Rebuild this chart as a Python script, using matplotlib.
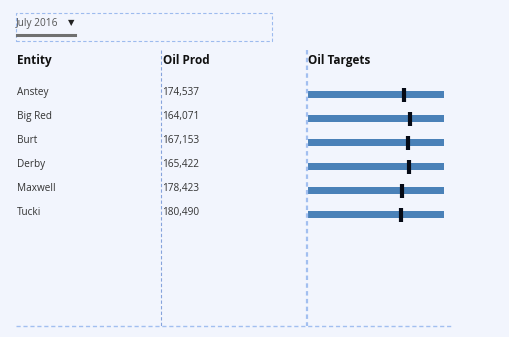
import matplotlib.pyplot as plt
from matplotlib.patches import Rectangle
from matplotlib.lines import Line2D

# Дані таблиці
entities = ['Anstey', 'Big Red', 'Burt', 'Derby', 'Maxwell', 'Tucki']
oil_prod = [174537, 164071, 167153, 165422, 178423, 180490]
oil_range = [200000, 200000, 200000, 200000, 200000, 200000]
oil_target = [141200, 150000, 147100, 148500, 138200, 136800]
period = 'July 2016'

W, H = 510, 337
bg = '#F2F5FD'
dash_col = '#9DBBEE'

plt.rcParams['font.family'] = ['Open Sans', 'DejaVu Sans']

fig = plt.figure(figsize=(W / 100, H / 100), dpi=100, facecolor=bg)


def fx(px):
    return px / W


def fy(py):
    return 1 - py / H


# Фільтр (випадаючий список)
fig.patches.append(Rectangle((fx(16), fy(41)), fx(256), 28 / H, transform=fig.transFigure,
                             fill=False, edgecolor=dash_col, linestyle=(0, (3, 2)), linewidth=0.8))
fig.text(fx(16), fy(23.5), period, fontsize=7.3, color='#555555', va='center', ha='left')
fig.text(fx(67.5), fy(23), '\u25BC', fontsize=6, color='#222222', va='center', ha='left',
         family=['DejaVu Sans'])
fig.lines.append(Line2D([fx(17), fx(75)], [fy(35), fy(35)], transform=fig.transFigure,
                        color='#707070', linewidth=2.2))

# Заголовки
for x, name in [(17, 'Entity'), (163, 'Oil Prod'), (308, 'Oil Targets')]:
    fig.text(fx(x), fy(60.5), name, fontsize=8.5, fontweight='bold', color='#111111',
             va='center', ha='left')

# Рядки
row_y0, row_step = 91, 24
for i, (name, val) in enumerate(zip(entities, oil_prod)):
    y = fy(row_y0 + 1.5 + i * row_step)
    fig.text(fx(17), y, name, fontsize=7.2, color='#333333', va='center', ha='left')
    fig.text(fx(162), y, f'{val:,}', fontsize=7.2, color='#333333', va='center', ha='left')

# Розділювачі
fig.lines.append(Line2D([fx(161), fx(161)], [fy(50), fy(326)], transform=fig.transFigure,
                        color='#86A3DC', linewidth=0.8, linestyle=(0, (3, 2))))
fig.lines.append(Line2D([fx(307), fx(307)], [fy(50), fy(326)], transform=fig.transFigure,
                        color='#A2BFF0', linewidth=1.6, linestyle=(0, (2, 1.5))))
fig.lines.append(Line2D([fx(16), fx(452)], [fy(326), fy(326)], transform=fig.transFigure,
                        color='#A2BFF0', linewidth=1.0, linestyle=(0, (3, 2))))

# Bullet-графік
ax = fig.add_axes([fx(308), fy(94.5 + 5.5 * row_step), fx(136), 6 * row_step / H])
ax.set_facecolor('none')
n = len(entities)
ys = list(range(n))
ax.barh(ys, oil_range, height=7 / row_step, color='#4A81B8')
ax.vlines(oil_target, [y - 7 / row_step for y in ys], [y + 7 / row_step for y in ys],
          color='#050A16', linewidth=3)
ax.set_xlim(0, max(oil_range))
ax.set_ylim(n - 0.5, -0.5)
ax.axis('off')

fig.savefig('out.png', dpi=100, facecolor=bg)
